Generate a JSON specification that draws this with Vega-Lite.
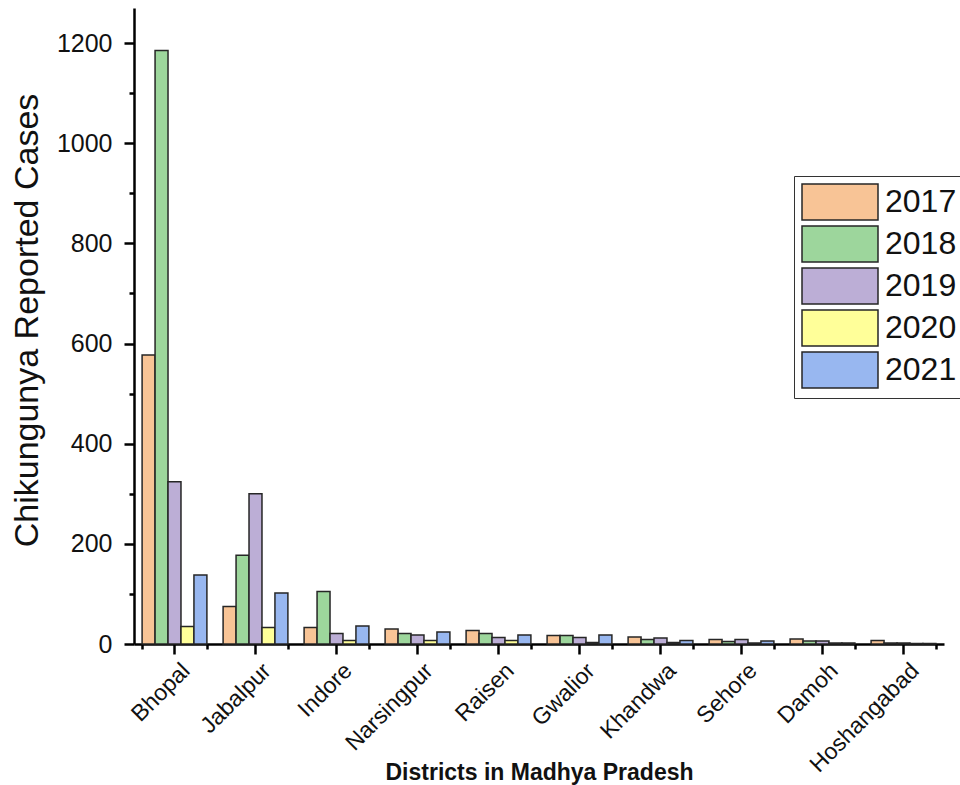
{
  "$schema": "https://vega.github.io/schema/vega-lite/v6.json",
  "width": 810,
  "height": 636,
  "autosize": {"type": "none"},
  "padding": {"left": 134, "top": 8, "right": 16, "bottom": 141},
  "background": "white",
  "config": {
    "view": {"stroke": null},
    "font": "Liberation Sans"
  },
  "data": {
    "values": [
      {"district": "Bhopal", "year": "2017", "cases": 577},
      {"district": "Bhopal", "year": "2018", "cases": 1185},
      {"district": "Bhopal", "year": "2019", "cases": 324},
      {"district": "Bhopal", "year": "2020", "cases": 35},
      {"district": "Bhopal", "year": "2021", "cases": 138},
      {"district": "Jabalpur", "year": "2017", "cases": 75},
      {"district": "Jabalpur", "year": "2018", "cases": 177},
      {"district": "Jabalpur", "year": "2019", "cases": 300},
      {"district": "Jabalpur", "year": "2020", "cases": 33},
      {"district": "Jabalpur", "year": "2021", "cases": 102},
      {"district": "Indore", "year": "2017", "cases": 33},
      {"district": "Indore", "year": "2018", "cases": 105},
      {"district": "Indore", "year": "2019", "cases": 21},
      {"district": "Indore", "year": "2020", "cases": 7},
      {"district": "Indore", "year": "2021", "cases": 36},
      {"district": "Narsingpur", "year": "2017", "cases": 30},
      {"district": "Narsingpur", "year": "2018", "cases": 21},
      {"district": "Narsingpur", "year": "2019", "cases": 18},
      {"district": "Narsingpur", "year": "2020", "cases": 7},
      {"district": "Narsingpur", "year": "2021", "cases": 24},
      {"district": "Raisen", "year": "2017", "cases": 27},
      {"district": "Raisen", "year": "2018", "cases": 21},
      {"district": "Raisen", "year": "2019", "cases": 13},
      {"district": "Raisen", "year": "2020", "cases": 7},
      {"district": "Raisen", "year": "2021", "cases": 18},
      {"district": "Gwalior", "year": "2017", "cases": 17},
      {"district": "Gwalior", "year": "2018", "cases": 17},
      {"district": "Gwalior", "year": "2019", "cases": 13},
      {"district": "Gwalior", "year": "2020", "cases": 3},
      {"district": "Gwalior", "year": "2021", "cases": 18},
      {"district": "Khandwa", "year": "2017", "cases": 14},
      {"district": "Khandwa", "year": "2018", "cases": 9},
      {"district": "Khandwa", "year": "2019", "cases": 12},
      {"district": "Khandwa", "year": "2020", "cases": 3},
      {"district": "Khandwa", "year": "2021", "cases": 7},
      {"district": "Sehore", "year": "2017", "cases": 9},
      {"district": "Sehore", "year": "2018", "cases": 5},
      {"district": "Sehore", "year": "2019", "cases": 9},
      {"district": "Sehore", "year": "2020", "cases": 2},
      {"district": "Sehore", "year": "2021", "cases": 6},
      {"district": "Damoh", "year": "2017", "cases": 10},
      {"district": "Damoh", "year": "2018", "cases": 6},
      {"district": "Damoh", "year": "2019", "cases": 6},
      {"district": "Damoh", "year": "2020", "cases": 2},
      {"district": "Damoh", "year": "2021", "cases": 2},
      {"district": "Hoshangabad", "year": "2017", "cases": 7},
      {"district": "Hoshangabad", "year": "2018", "cases": 2},
      {"district": "Hoshangabad", "year": "2019", "cases": 2},
      {"district": "Hoshangabad", "year": "2020", "cases": 1},
      {"district": "Hoshangabad", "year": "2021", "cases": 1}
    ]
  },
  "layer": [
    {
      "mark": {"type": "bar", "stroke": "#262626", "strokeWidth": 1.5, "opacity": 1},
      "encoding": {
        "x": {
          "field": "district",
          "type": "nominal",
          "sort": null,
          "scale": {"paddingInner": 0.2, "paddingOuter": 0.1},
          "axis": {
            "orient": "bottom",
            "title": "Districts in Madhya Pradesh",
            "titleFont": "Liberation Sans",
            "titleFontWeight": "bold",
            "titleFontSize": 23,
            "titleColor": "#111",
            "titleBaseline": "alphabetic",
            "titleY": 135,
            "labelAngle": -45,
            "labelAlign": "right",
            "labelBaseline": "top",
            "labelFontSize": 23,
            "labelColor": "#111",
            "labelPadding": 5,
            "labelOffset": 4,
            "tickSize": 10,
            "tickWidth": 2.5,
            "tickColor": "black",
            "domainColor": "black",
            "domainWidth": 2.5
          }
        },
        "xOffset": {
          "field": "year",
          "type": "nominal",
          "scale": {"paddingInner": 0, "paddingOuter": 0}
        },
        "y": {
          "field": "cases",
          "type": "quantitative",
          "scale": {"domain": [0, 1270], "nice": false},
          "axis": {
            "title": "Chikungunya Reported Cases",
            "titleFontSize": 34,
            "titleFontWeight": "normal",
            "titleColor": "#111",
            "titleAngle": -90,
            "titleBaseline": "alphabetic",
            "titleX": -97,
            "titleY": 312,
            "values": [0, 100, 200, 300, 400, 500, 600, 700, 800, 900, 1000, 1100, 1200],
            "format": "d",
            "labelExpr": "datum.value % 200 === 0 ? datum.label : ''",
            "labelFontSize": 25,
            "labelColor": "#111",
            "labelPadding": 12,
            "tickSize": {"condition": {"test": "datum.value % 200 === 0", "value": 10}, "value": 5},
            "tickWidth": 2.5,
            "tickColor": "black",
            "domainColor": "black",
            "domainWidth": 2.5,
            "grid": false
          }
        },
        "fill": {
          "field": "year",
          "type": "nominal",
          "scale": {
            "domain": ["2017", "2018", "2019", "2020", "2021"],
            "range": ["#F8C496", "#9DD69C", "#BCAED6", "#FFFF99", "#98B7F0"]
          },
          "legend": {
            "title": null,
            "orient": "none",
            "legendX": 660,
            "legendY": 168,
            "padding": 6,
            "strokeColor": "#333",
            "fillColor": "white",
            "symbolType": "M-2,-0.95H2V0.95H-2Z",
            "symbolSize": 1444,
            "symbolOffset": 20,
            "symbolStrokeColor": "#262626",
            "symbolStrokeWidth": 1.5,
            "symbolOpacity": 1,
            "labelFontSize": 32,
            "labelColor": "#111",
            "labelOffset": 25,
            "rowPadding": -2.5,
            "labelLimit": 200
          }
        }
      }
    },
    {
      "mark": {"type": "bar", "opacity": 0},
      "encoding": {
        "x": {
          "field": "district",
          "type": "nominal",
          "sort": null,
          "axis": {
            "orient": "bottom",
            "title": null,
            "labels": false,
            "domain": false,
            "tickBand": "extent",
            "tickSize": 5,
            "tickWidth": 2.5,
            "tickColor": "black"
          }
        },
        "xOffset": {"field": "year", "type": "nominal"}
      }
    }
  ],
  "resolve": {"axis": {"x": "independent"}}
}
